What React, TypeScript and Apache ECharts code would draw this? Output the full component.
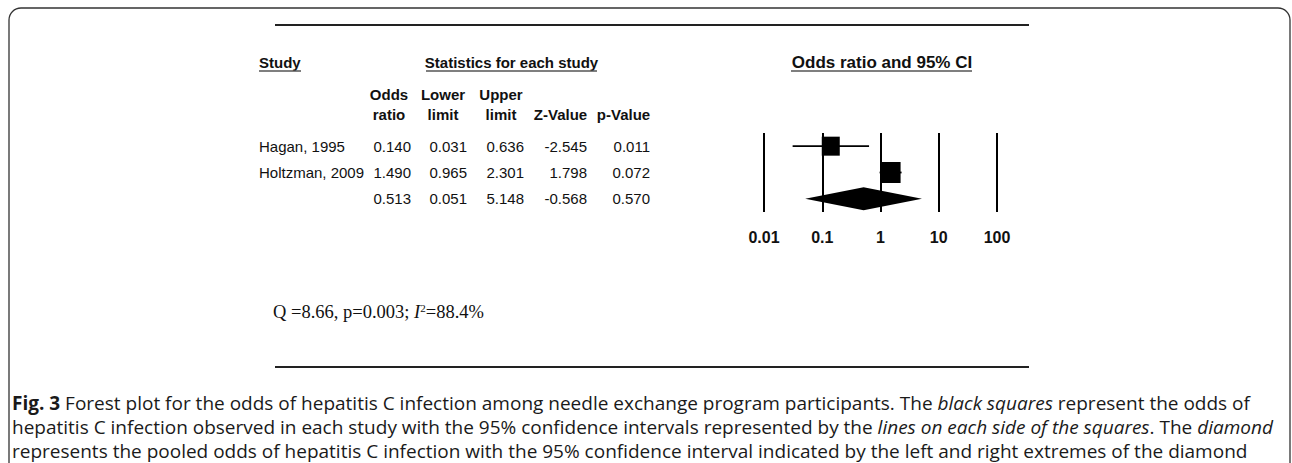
import React, { useEffect, useRef } from "react";
import * as echarts from "echarts";

// ---- data ----
const studies = ["Hagan, 1995", "Holtzman, 2009", ""];
const oddsRatio = [0.14, 1.49, 0.513];
const lowerLimit = [0.031, 0.965, 0.051];
const upperLimit = [0.636, 2.301, 5.148];
const zValue = [-2.545, 1.798, -0.568];
const pValue = [0.011, 0.072, 0.57];
const xTickLabels = ["0.01", "0.1", "1", "10", "100"];
const pooledIndex = 2;
const heterogeneity = { Q: "8.66", p: "0.003", I2: "88.4%" };

const SANS = "Arial, 'Liberation Sans', Helvetica, sans-serif";
const SERIF = "'Times New Roman', 'Liberation Serif', serif";
const CAP = "'Open Sans', 'Noto Sans', sans-serif";

const fmt = (v: number) => v.toFixed(3);

export default function App() {
  const ref = useRef<HTMLDivElement>(null);
  useEffect(() => {
    if (!ref.current) return;
    const chart = echarts.init(ref.current, null, { renderer: "svg" });

    const gridLeft = 764;
    const tableCol = (data: string[], rightEdge: number, align = "right") => ({
      type: "category",
      gridIndex: 0,
      position: "left",
      inverse: true,
      data,
      offset: gridLeft - rightEdge,
      axisLine: { show: false },
      axisTick: { show: false },
      splitLine: { show: false },
      axisLabel: {
        margin: 0,
        align,
        fontFamily: SANS,
        fontSize: 15,
        color: "#111",
      },
    });

    const studyRows = studies
      .map((_, i) => i)
      .filter((i) => i !== pooledIndex);

    const CAPSIZE = 19;
    const capRich = {
      b: { fontFamily: CAP, fontSize: CAPSIZE, fontWeight: "bold", fill: "#1a1a1a", color: "#1a1a1a" },
      i: { fontFamily: CAP, fontSize: CAPSIZE, fontStyle: "italic", fill: "#1a1a1a", color: "#1a1a1a" },
    };

    const capLine = (text: string, y: number) => ({
      type: "text",
      left: 12,
      top: y,
      style: {
        text,
        rich: capRich,
        fontFamily: CAP,
        fontSize: CAPSIZE,
        fill: "#1a1a1a",
      },
    });

    const headerText = (text: string, x: number, y: number, align = "center", size = 15) => ({
      type: "text",
      x,
      y,
      style: {
        text,
        fontFamily: SANS,
        fontSize: size,
        fontWeight: "bold",
        fill: "#111",
        align,
        verticalAlign: "middle",
        lineHeight: 20,
      },
    });

    const hline = (x1: number, x2: number, y: number, w: number, c: string) => ({
      type: "line",
      shape: { x1, y1: y, x2, y2: y },
      style: { stroke: c, lineWidth: w },
    });

    const option: any = {
      animation: false,
      backgroundColor: "#fff",
      grid: { left: gridLeft, top: 133, width: 233, height: 79, containLabel: false },
      xAxis: {
        type: "log",
        logBase: 10,
        min: 0.01,
        max: 100,
        axisLine: { show: false },
        axisTick: { show: false },
        splitLine: { show: true, lineStyle: { color: "#000", width: 2 } },
        axisLabel: {
          margin: 17,
          fontFamily: SANS,
          fontSize: 16,
          fontWeight: "bold",
          color: "#111",
          formatter: (_v: number, idx: number) => xTickLabels[idx] ?? "",
        },
      },
      yAxis: [
        tableCol(studies, 259, "left"),
        tableCol(oddsRatio.map(fmt), 411),
        tableCol(lowerLimit.map(fmt), 467),
        tableCol(upperLimit.map(fmt), 524),
        tableCol(zValue.map(fmt), 587),
        tableCol(pValue.map(fmt), 650),
      ],
      series: [
        {
          type: "custom",
          name: "CI",
          yAxisIndex: 0,
          clip: false,
          encode: { x: [0, 1], y: 2 },
          data: studyRows.map((i) => [lowerLimit[i], upperLimit[i], i]),
          renderItem: (_p: any, api: any) => {
            const a = api.coord([api.value(0), api.value(2)]);
            const b = api.coord([api.value(1), api.value(2)]);
            return {
              type: "line",
              shape: { x1: a[0], y1: a[1], x2: b[0], y2: b[1] },
              style: { stroke: "#000", lineWidth: 1.8 },
            };
          },
          z: 2,
        },
        {
          type: "scatter",
          name: "OR",
          yAxisIndex: 0,
          symbol: "rect",
          symbolSize: (_v: any, params: any) => (params.dataIndex === 0 ? [18, 19] : [20, 21]),
          itemStyle: { color: "#000", opacity: 1 },
          data: studyRows.map((i) => [oddsRatio[i], i]),
          z: 3,
        },
        {
          type: "custom",
          name: "Pooled",
          yAxisIndex: 0,
          clip: false,
          encode: { x: [0, 1, 2], y: 3 },
          data: [[lowerLimit[pooledIndex], oddsRatio[pooledIndex], upperLimit[pooledIndex], pooledIndex]],
          renderItem: (_p: any, api: any) => {
            const l = api.coord([api.value(0), api.value(3)]);
            const c = api.coord([api.value(1), api.value(3)]);
            const r = api.coord([api.value(2), api.value(3)]);
            const h = 11.5;
            return {
              type: "polygon",
              shape: {
                points: [
                  [l[0], c[1]],
                  [c[0], c[1] - h],
                  [r[0], c[1]],
                  [c[0], c[1] + h],
                ],
              },
              style: { fill: "#000" },
            };
          },
          z: 3,
        },
      ],
      graphic: [
        {
          type: "rect",
          shape: { x: 9, y: 8, width: 1281, height: 520, r: 12 },
          style: { fill: "none", stroke: "#333", lineWidth: 1.3 },
          silent: true,
        },
        hline(275, 1029, 25, 2, "#222"),
        hline(275, 1029, 367, 2, "#222"),
        headerText("Study", 259, 62, "left"),
        hline(259, 301, 71, 1.5, "#555"),
        headerText("Statistics for each study", 511.5, 62),
        hline(426, 597, 71, 1.5, "#555"),
        headerText("Odds ratio and 95% CI", 882, 62, "center", 17),
        hline(791, 972, 71, 1.5, "#555"),
        headerText("Odds\nratio", 389, 104),
        headerText("Lower\nlimit", 443, 104),
        headerText("Upper\nlimit", 501, 104),
        headerText("Z-Value", 560.5, 114),
        headerText("p-Value", 623.5, 114),
        {
          type: "text",
          x: 273,
          y: 312,
          style: {
            text: `Q =${heterogeneity.Q}, p=${heterogeneity.p}; {i|I}{sup|2}=${heterogeneity.I2}`,
            fontFamily: SERIF,
            fontSize: 18.5,
            fill: "#111",
            verticalAlign: "middle",
            rich: {
              i: { fontFamily: SERIF, fontSize: 18.5, fontStyle: "italic", fill: "#111", color: "#111" },
              sup: { fontFamily: SERIF, fontSize: 11, fill: "#111", color: "#111", verticalAlign: "top", padding: [0, 0, 8, 0] },
            },
          },
        },
        capLine(
          "{b|Fig. 3} Forest plot for the odds of hepatitis C infection among needle exchange program participants. The {i|black squares} represent the odds of",
          393
        ),
        capLine(
          "hepatitis C infection observed in each study with the 95% confidence intervals represented by the {i|lines on each side of the squares}. The {i|diamond}",
          417
        ),
        capLine(
          "represents the pooled odds of hepatitis C infection with the 95% confidence interval indicated by the left and right extremes of the diamond",
          441
        ),
      ],
    };

    chart.setOption(option);
    return () => chart.dispose();
  }, []);

  return (
    <div
      ref={ref}
      style={{ position: "absolute", left: 0, top: 0, width: 1292, height: 463, background: "#fff" }}
    />
  );
}
